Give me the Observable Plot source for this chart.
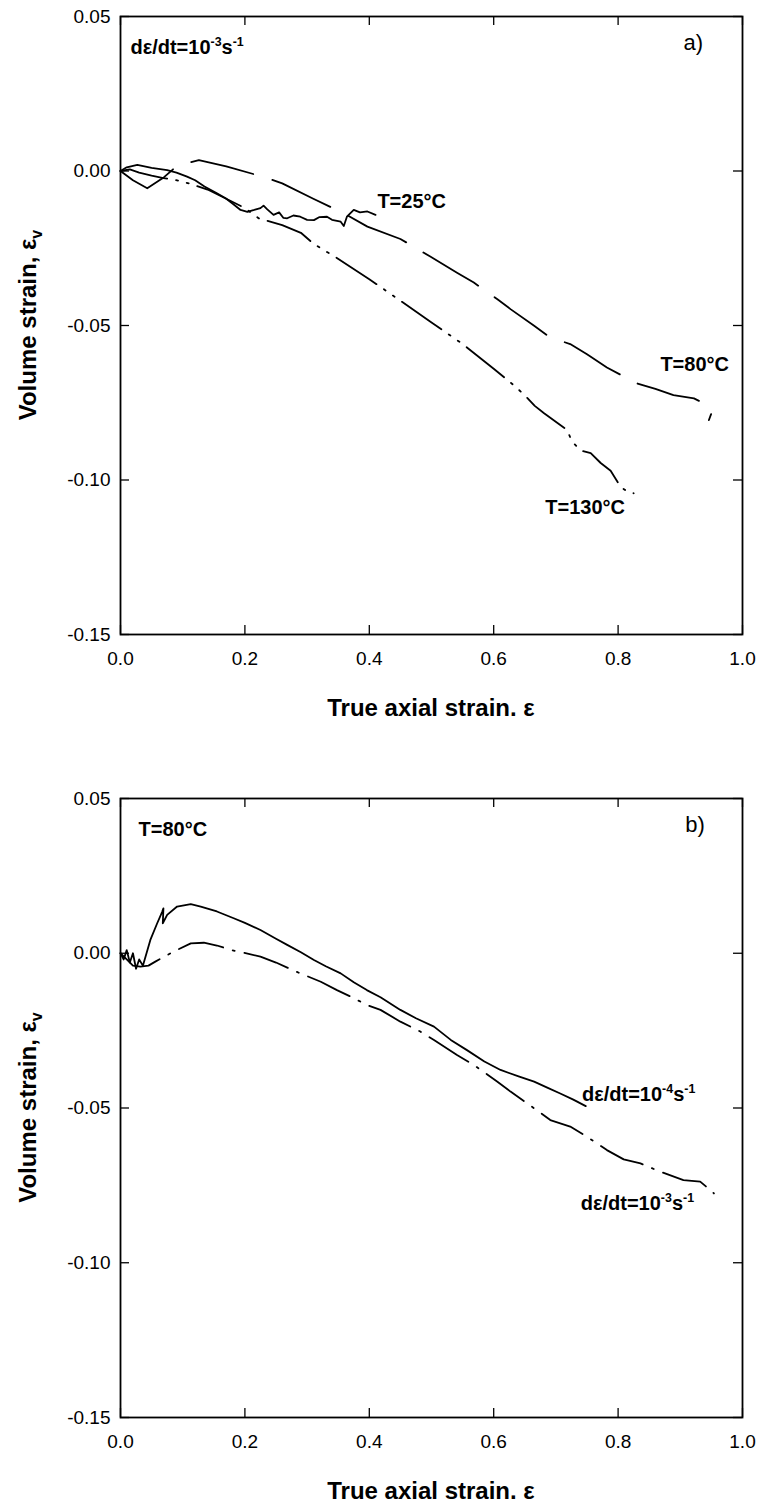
<!DOCTYPE html>
<html><head><meta charset="utf-8">
<script src="https://cdn.jsdelivr.net/npm/d3@7"></script>
<script src="https://cdn.jsdelivr.net/npm/@observablehq/plot@0.6"></script>
<style>body{margin:0;background:#fff;} svg{display:block;}</style>
</head><body><div id="chart"></div>
<script>
// ---------- tick labels / titles ----------
const xTicks = [0, 0.2, 0.4, 0.6, 0.8, 1.0];
const yTicks = [0.05, 0, -0.05, -0.10, -0.15];
const xTitle = "True axial strain. ε";
const yTitleMain = "Volume strain, ε";
const yTitleSub = "v";

// ---------- panel a) series: [true axial strain, volume strain] ----------
const aT25 = [[0,0],[0.01,0.0012],[0.027,0.002],[0.05,0.001],[0.075,0.0003],[0.09,-0.0005],[0.107,-0.0018],[0.12,-0.003],[0.135,-0.005],[0.155,-0.0072],[0.169,-0.0088],[0.18,-0.0105],[0.193,-0.0126],[0.204,-0.0132],[0.215,-0.0126],[0.225,-0.012],[0.23,-0.0112],[0.236,-0.0124],[0.246,-0.0142],[0.255,-0.0134],[0.262,-0.0152],[0.268,-0.0153],[0.278,-0.0144],[0.289,-0.0148],[0.30,-0.0158],[0.311,-0.0159],[0.32,-0.0149],[0.332,-0.0148],[0.34,-0.0158],[0.354,-0.0164],[0.359,-0.0178],[0.364,-0.0148],[0.375,-0.0126],[0.385,-0.0134],[0.397,-0.0131],[0.41,-0.0142]];
const aT80 = [[0,0],[0.02,-0.003],[0.043,-0.0056],[0.07,-0.002],[0.091,0.0017],[0.126,0.0035],[0.17,0.0015],[0.228,-0.0018],[0.26,-0.004],[0.31,-0.009],[0.359,-0.0137],[0.397,-0.018],[0.45,-0.022],[0.498,-0.0277],[0.541,-0.0329],[0.568,-0.0361],[0.606,-0.0415],[0.627,-0.0447],[0.665,-0.0501],[0.691,-0.0539],[0.723,-0.056],[0.75,-0.0593],[0.782,-0.0636],[0.83,-0.0687],[0.86,-0.0705],[0.889,-0.0725],[0.922,-0.0736],[0.941,-0.0755],[0.951,-0.0779],[0.946,-0.0806]];
const aT130 = [[0,0],[0.015,0.0005],[0.03,-0.0005],[0.05,-0.0015],[0.069,-0.0023],[0.088,-0.0029],[0.11,-0.004],[0.14,-0.006],[0.174,-0.0094],[0.20,-0.012],[0.222,-0.0153],[0.26,-0.0175],[0.29,-0.020],[0.31,-0.0235],[0.33,-0.026],[0.343,-0.0275],[0.40,-0.035],[0.45,-0.042],[0.50,-0.049],[0.55,-0.056],[0.60,-0.064],[0.622,-0.0676],[0.635,-0.0698],[0.651,-0.0728],[0.666,-0.076],[0.681,-0.0784],[0.718,-0.0838],[0.726,-0.0876],[0.74,-0.0905],[0.756,-0.0913],[0.772,-0.0945],[0.788,-0.097],[0.804,-0.1022],[0.815,-0.1038],[0.825,-0.1043]];

// ---------- panel b) series ----------
const bRate4 = [[0,0],[0.005,-0.002],[0.01,0.001],[0.015,-0.003],[0.02,0],[0.025,-0.005],[0.03,-0.002],[0.036,-0.004],[0.048,0.0043],[0.059,0.0097],[0.067,0.0134],[0.069,0.0145],[0.068,0.0097],[0.075,0.0124],[0.091,0.0151],[0.113,0.0159],[0.129,0.0151],[0.155,0.0135],[0.182,0.0113],[0.20,0.0098],[0.225,0.0075],[0.25,0.0047],[0.268,0.0027],[0.29,0.0003],[0.311,-0.0022],[0.33,-0.0042],[0.354,-0.0065],[0.375,-0.0094],[0.396,-0.0119],[0.418,-0.0142],[0.45,-0.0183],[0.475,-0.021],[0.504,-0.0237],[0.531,-0.028],[0.557,-0.0313],[0.585,-0.035],[0.611,-0.0377],[0.64,-0.0398],[0.665,-0.0415],[0.687,-0.0435],[0.707,-0.0453],[0.728,-0.0473],[0.748,-0.0494]];
const bRate3 = [[0,0],[0.01,-0.002],[0.02,-0.004],[0.032,-0.0043],[0.045,-0.004],[0.056,-0.0027],[0.085,0.0005],[0.113,0.0032],[0.134,0.0034],[0.155,0.0025],[0.177,0.0011],[0.225,-0.0011],[0.25,-0.003],[0.289,-0.0065],[0.322,-0.0092],[0.348,-0.0119],[0.37,-0.014],[0.396,-0.0167],[0.418,-0.0183],[0.45,-0.0221],[0.482,-0.0253],[0.504,-0.028],[0.541,-0.0329],[0.568,-0.0361],[0.606,-0.0415],[0.627,-0.0447],[0.665,-0.0501],[0.691,-0.0539],[0.723,-0.056],[0.75,-0.0593],[0.782,-0.0636],[0.809,-0.0666],[0.836,-0.0679],[0.868,-0.0706],[0.905,-0.0733],[0.932,-0.0738],[0.951,-0.077],[0.954,-0.0776]];

// ---------- annotations ----------
const aNotes = [
  {x:0.016, y:0.0398, text:"dε/dt=10^{-3}s^{-1}", bold:true},
  {x:0.905, y:0.0414, text:"a)", bold:false},
  {x:0.413, y:-0.0099, text:"T=25°C", bold:true},
  {x:0.868, y:-0.0628, text:"T=80°C", bold:true},
  {x:0.683, y:-0.109, text:"T=130°C", bold:true}
];
const bNotes = [
  {x:0.029, y:0.0399, text:"T=80°C", bold:true},
  {x:0.908, y:0.0415, text:"b)", bold:false},
  {x:0.742, y:-0.0458, text:"dε/dt=10^{-4}s^{-1}", bold:true},
  {x:0.740, y:-0.081, text:"dε/dt=10^{-3}s^{-1}", bold:true}
];

const FONT = "'Liberation Sans', Arial, Helvetica, sans-serif";
const W = 759, ML = 120, MR = 17;

function richify(svg) {
  d3.select(svg).selectAll("text").each(function() {
    const t = this.textContent;
    if (!t.includes("^{")) return;
    const fs = parseFloat(this.getAttribute("font-size")) || 20;
    const el = d3.select(this);
    el.text(null);
    const re = /\^\{([^}]*)\}/g;
    let last = 0, m, shifted = false;
    const up = fs * 0.42;
    while ((m = re.exec(t))) {
      const before = t.slice(last, m.index);
      if (before) { el.append("tspan").attr("dy", shifted ? up : 0).text(before); shifted = false; }
      el.append("tspan").attr("dy", shifted ? 0 : -up).attr("font-size", fs * 0.62).text(m[1]);
      shifted = true;
      last = re.lastIndex;
    }
    const rest = t.slice(last);
    if (rest) el.append("tspan").attr("dy", shifted ? up : 0).text(rest);
  });
}

function panel({height, marginTop, marginBottom, lines, notes}) {
  const pw = W - ML - MR, ph = height - marginTop - marginBottom;
  const tk = 9;
  const plot = Plot.plot({
    width: W, height, marginLeft: ML, marginRight: MR, marginTop, marginBottom,
    style: {fontFamily: FONT, fontSize: "19px", color: "#000", background: "#fff", overflow: "visible"},
    x: {domain: [0, 1]},
    y: {domain: [-0.15, 0.05]},
    marks: [
      Plot.axisX({ticks: xTicks, tickFormat: d => d.toFixed(1), tickSize: 0, tickPadding: 17, label: null}),
      Plot.axisY({ticks: yTicks, tickFormat: d => d.toFixed(2), tickSize: 0, tickPadding: 10, label: null}),
      Plot.tickX(xTicks, {x: d => d, insetTop: ph - tk, stroke: "#000", strokeWidth: 1.3}),
      Plot.tickX(xTicks, {x: d => d, insetBottom: ph - tk, stroke: "#000", strokeWidth: 1.3}),
      Plot.tickY(yTicks, {y: d => d, insetRight: pw - tk, stroke: "#000", strokeWidth: 1.3}),
      Plot.tickY(yTicks, {y: d => d, insetLeft: pw - tk, stroke: "#000", strokeWidth: 1.3}),
      Plot.frame({stroke: "#000", strokeWidth: 1.8}),
      ...lines.map(l => Plot.line(l.data, {x: d => d[0], y: d => d[1], stroke: "#000", strokeWidth: 1.8, strokeDasharray: l.dash, strokeLinejoin: "round"})),
      Plot.text(notes.filter(n => n.bold), {x: "x", y: "y", text: "text", textAnchor: "start", fontWeight: "bold", fontSize: 20, fill: "#000"}),
      Plot.text(notes.filter(n => !n.bold), {x: "x", y: "y", text: "text", textAnchor: "start", fontSize: 22, fill: "#000"})
    ]
  });
  richify(plot);
  const svg = d3.select(plot);
  const ys = plot.scale("y"), xs = plot.scale("x");
  const cy = (ys.apply(0.05) + ys.apply(-0.15)) / 2;
  const cx = (xs.apply(0) + xs.apply(1)) / 2;
  const yt = svg.append("text")
    .attr("transform", `translate(28,${cy}) rotate(-90)`)
    .attr("text-anchor", "middle").attr("dy", "0.35em")
    .attr("font-family", FONT).attr("font-weight", "bold").attr("font-size", 24).attr("fill", "#000");
  yt.append("tspan").text(yTitleMain);
  yt.append("tspan").attr("font-size", 16).attr("dy", 6).text(yTitleSub);
  svg.append("text")
    .attr("x", cx).attr("y", ys.apply(-0.15) + 74)
    .attr("text-anchor", "middle").attr("dy", "0.35em")
    .attr("font-family", FONT).attr("font-weight", "bold").attr("font-size", 24).attr("fill", "#000")
    .text(xTitle);
  return plot;
}

const root = document.getElementById("chart");
root.append(panel({height: 780, marginTop: 16, marginBottom: 146, notes: aNotes, lines: [
  {data: aT25, dash: null},
  {data: aT80, dash: "64,20"},
  {data: aT130, dash: "48,9,2,9,2,9"}
]}));
root.append(panel({height: 722, marginTop: 18, marginBottom: 85, notes: bNotes, lines: [
  {data: bRate4, dash: null},
  {data: bRate3, dash: "46,10,2,10"}
]}));
</script>
</body></html>
